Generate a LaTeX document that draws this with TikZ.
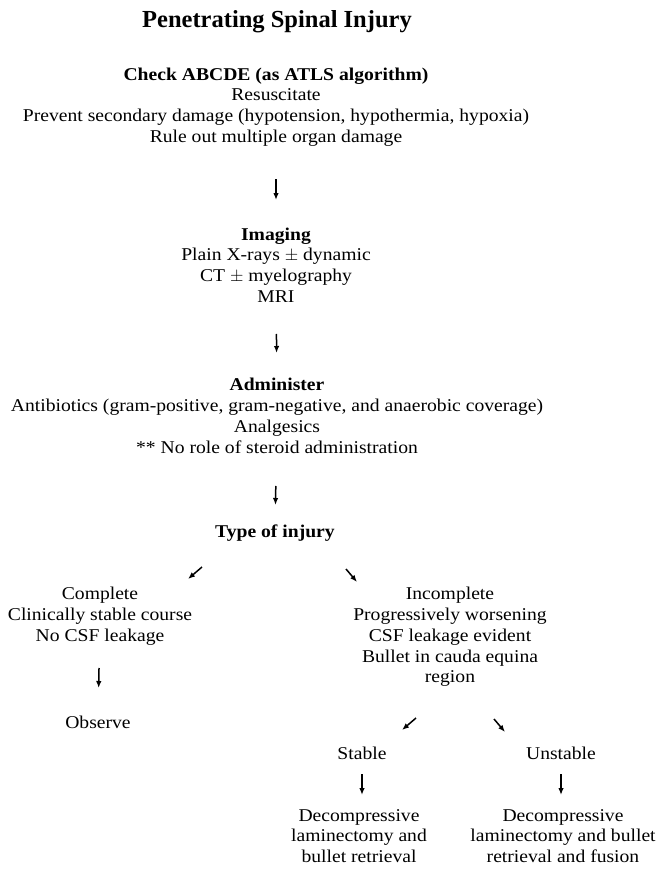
\documentclass[tikz,border=0pt]{standalone}
\usepackage{fontspec}
\setmainfont{Liberation Serif}[FakeStretch=1.09]
\newfontfamily\titlefont{Liberation Serif}
\usetikzlibrary{arrows.meta,calc}

\begin{document}
\begin{tikzpicture}[x=1pt,y=-1pt,
    txt/.style={align=center,inner sep=0pt,font=\fontsize{18}{20.8}\selectfont},
    arr/.style={-{Latex[length=7pt,width=5.5pt]},line width=1.5pt}
  ]
  \useasboundingbox (0,0) rectangle (660,869);
  % title
  \node[font=\titlefont\bfseries\fontsize{24.5}{28}\selectfont,inner sep=0pt] (title) at (277,22) {Penetrating Spinal Injury};
  % main column
  \node[txt] (abcde) at (276,107) {\textbf{Check ABCDE (as ATLS algorithm)}\\Resuscitate\\Prevent secondary damage (hypotension, hypothermia, hypoxia)\\Rule out multiple organ damage};
  \node[txt] (imaging) at (276,265) {\textbf{Imaging}\\Plain X-rays $\pm$ dynamic\\CT $\pm$ myelography\\MRI};
  \node[txt] (admin) at (277,416) {\textbf{Administer}\\Antibiotics (gram-positive, gram-negative, and anaerobic coverage)\\Analgesics\\** No role of steroid administration};
  \node[txt] (type) at (275,533) {\textbf{Type of injury}};
  % two branches
  \node[txt] (complete) at (100,616) {Complete\\Clinically stable course\\No CSF leakage};
  \node[txt] (observe) at (98,722) {Observe};
  \node[txt] (incomplete) at (450,637) {Incomplete\\Progressively worsening\\CSF leakage evident\\Bullet in cauda equina\\region};
  \node[txt] (stable) at (362,753) {Stable};
  \node[txt] (unstable) at (561,753) {Unstable};
  \node[txt] (decomp) at (359,836) {Decompressive\\laminectomy and\\bullet retrieval};
  \node[txt] (fusion) at (563,836) {Decompressive\\laminectomy and bullet\\retrieval and fusion};
  % arrows
  \draw[arr,shorten <=72pt,shorten >=65pt] (abcde.center) -- (imaging.center);
  \draw[arr,shorten <=69pt,shorten >=63pt] (imaging.center) -- (admin.center);
  \draw[arr,shorten <=70pt,shorten >=28pt] (admin.center) -- (type.center);
  \draw[arr] ($(type.center)+(-73,34)$) -- ++(-14,12);
  \draw[arr] ($(type.center)+(71,36)$) -- ++(11,13);
  \draw[arr,shorten <=52pt,shorten >=34pt] (complete.center) -- (observe.center);
  \draw[arr] ($(incomplete.center)+(-34,81)$) -- ++(-14,12);
  \draw[arr] ($(incomplete.center)+(44,82)$) -- ++(11,13);
  \draw[arr,shorten <=21pt,shorten >=41pt] (stable.center) -- (stable.center |- decomp.center);
  \draw[arr,shorten <=21pt,shorten >=41pt] (unstable.center) -- (unstable.center |- fusion.center);
\end{tikzpicture}
\end{document}
